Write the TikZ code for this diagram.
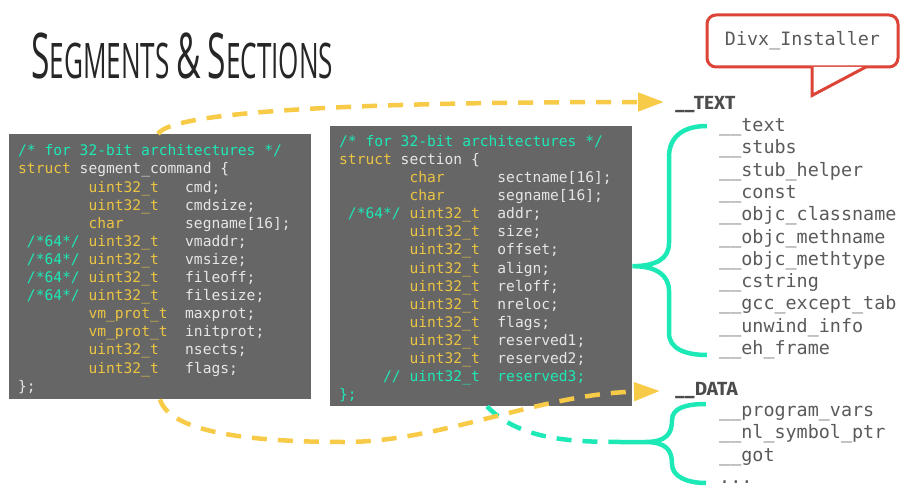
\documentclass[tikz,border=0pt]{standalone}
\usepackage{fontspec}
\usepackage{graphicx}
\usepackage{tikz}
\usetikzlibrary{positioning}
\usetikzlibrary{arrows.meta}
\setmonofont{DejaVu Sans Mono}
\newfontfamily\hdrfont{Fira Sans}
\newfontfamily\ttlfont{Open Sans}
\definecolor{boxgray}{HTML}{666666}
\definecolor{cmt}{HTML}{1DE9B6}
\definecolor{typ}{HTML}{EBC443}
\definecolor{plain}{HTML}{E6E6E6}
\definecolor{arr}{HTML}{F7CA48}
\definecolor{lst}{HTML}{5A5A5A}
\definecolor{bubble}{HTML}{DB4437}
\definecolor{ttl}{HTML}{262626}

\newlength{\chw}
\newcommand{\codefont}{\ttfamily\fontsize{14.6}{18.1}\selectfont\settowidth{\chw}{0}}
\newcommand{\blank}{\hspace*{\chw}}
\newcommand{\segf}[3]{\makebox[7\chw][r]{\color{cmt}#1}\blank\makebox[11\chw][l]{\color{typ}#2}#3}
\newcommand{\sectf}[3]{\makebox[7\chw][r]{\color{cmt}#1}\blank\makebox[10\chw][l]{\color{typ}#2}#3}
\newcommand{\ttlsc}[2]{{\fontsize{63}{63}\selectfont #1}{\fontsize{49}{49}\selectfont #2}}

\tikzset{
  codebox/.style={fill=boxgray, text=plain, font=\codefont, align=left, text width=284pt,
    inner xsep=9pt, inner ysep=0pt, anchor=north west},
  hdr/.style={font=\hdrfont\bfseries\fontsize{19}{19}\selectfont, text=lst!85!black, inner sep=0pt, anchor=west},
  sect/.style={font=\ttfamily\fontsize{18.4}{21.9}\selectfont, text=lst, inner sep=0pt,
    text width=190pt, text height=14pt, text depth=7.9pt},
  yarrow/.style={draw=arr, line width=4.5pt, dash pattern=on 15pt off 11pt,
    -{Triangle[length=26pt,width=18pt]}},
  tdash/.style={draw=cmt, line width=4.5pt, dash pattern=on 15pt off 11pt},
  brace/.style={draw=cmt, line width=4.5pt},
  callout/.style={draw=bubble, line width=3pt, fill=white}
}

\begin{document}
\begin{tikzpicture}[x=1pt,y=-1pt]
\useasboundingbox (0,0) rectangle (913,495);

\node[anchor=base west, inner sep=0pt, text=ttl, font=\ttlfont\fontsize{49}{49}\selectfont] (title) at (31,78)
  {\resizebox{302pt}{\height}{\ttlsc{S}{EGMENTS} {\fontsize{63}{63}\selectfont\&} \ttlsc{S}{ECTIONS}}};

\node[codebox, minimum height=265pt] (segbox) at (9,134) {%
\rule{0pt}{16pt}{\color{cmt}/*\blank for\blank 32-bit\blank architectures\blank */}\\
{\color{typ}struct}\blank segment\_command\blank\{\\
\segf{}{uint32\_t}{cmd;}\\
\segf{}{uint32\_t}{cmdsize;}\\
\segf{}{char}{segname[16];}\\
\segf{/*64*/}{uint32\_t}{vmaddr;}\\
\segf{/*64*/}{uint32\_t}{vmsize;}\\
\segf{/*64*/}{uint32\_t}{fileoff;}\\
\segf{/*64*/}{uint32\_t}{filesize;}\\
\segf{}{vm\_prot\_t}{maxprot;}\\
\segf{}{vm\_prot\_t}{initprot;}\\
\segf{}{uint32\_t}{nsects;}\\
\segf{}{uint32\_t}{flags;}\\
\};};

\node[codebox, minimum height=280pt] (sectbox) at (330,126) {%
\rule{0pt}{16pt}{\color{cmt}/*\blank for\blank 32-bit\blank architectures\blank */}\\
{\color{typ}struct}\blank section\blank\{\\
\sectf{}{char}{sectname[16];}\\
\sectf{}{char}{segname[16];}\\
\sectf{/*64*/}{uint32\_t}{addr;}\\
\sectf{}{uint32\_t}{size;}\\
\sectf{}{uint32\_t}{offset;}\\
\sectf{}{uint32\_t}{align;}\\
\sectf{}{uint32\_t}{reloff;}\\
\sectf{}{uint32\_t}{nreloc;}\\
\sectf{}{uint32\_t}{flags;}\\
\sectf{}{uint32\_t}{reserved1;}\\
\sectf{}{uint32\_t}{reserved2;}\\
\sectf{//}{\color{cmt}uint32\_t}{\color{cmt}reserved3;}\\
\};};

\node[hdr] (TEXT) at (675,105) {\_\_TEXT};
\node[sect, anchor=west] (text) at (719,128.5) {\_\_text};
\node[sect, below=0pt of text] (stubs) {\_\_stubs};
\node[sect, below=0pt of stubs] (stubhelper) {\_\_stub\_helper};
\node[sect, below=0pt of stubhelper] (const) {\_\_const};
\node[sect, below=0pt of const] (classname) {\_\_objc\_classname};
\node[sect, below=0pt of classname] (methname) {\_\_objc\_methname};
\node[sect, below=0pt of methname] (methtype) {\_\_objc\_methtype};
\node[sect, below=0pt of methtype] (cstring) {\_\_cstring};
\node[sect, below=0pt of cstring] (gccexcept) {\_\_gcc\_except\_tab};
\node[sect, below=0pt of gccexcept] (unwind) {\_\_unwind\_info};
\node[sect, below=0pt of unwind] (ehframe) {\_\_eh\_frame};

\node[hdr] (DATA) at (675,391) {\_\_DATA};
\node[sect, anchor=west] (progvars) at (719,413.5) {\_\_program\_vars};
\node[sect, below=0pt of progvars] (nlsymbol) {\_\_nl\_symbol\_ptr};
\node[sect, below=0pt of nlsymbol] (got) {\_\_got};
\node[sect, below=0pt of got] (more) {...};

\coordinate (datatip) at (623,442);

\draw[brace] (707,126) .. controls (684,126) and (669,136) .. (669,157) -- (669,243)
  .. controls (669,259) and (656,266) .. (sectbox.east)
  .. controls (656,266) and (669,275) .. (669,291) -- (669,333)
  .. controls (669,348) and (684,355) .. (707,355);
\draw[brace] (706,404) .. controls (686,404) and (672,408) .. (672,420)
  .. controls (672,434) and (666,442) .. (645,442) -- (datatip)
  (645,442) .. controls (666,442) and (672,450) .. (672,464)
  .. controls (672,476) and (686,483) .. (706,483);

\draw[tdash] ([xshift=157pt]sectbox.south west) .. controls +(33,34) and +(-50,0) .. (datatip);

\draw[yarrow] ([xshift=149pt]segbox.north west) .. controls +(15,-26) and +(-250,0) .. ([xshift=-11pt,yshift=3pt]TEXT.west);
\draw[yarrow] ([xshift=151pt]segbox.south west) .. controls +(10,33) and +(-95,0) .. (345,442)
  .. controls +(95,0) and +(-120,3) .. ([xshift=-15pt]DATA.west);

\node[draw=bubble, line width=3pt, rounded corners=9pt, fill=white, minimum width=191pt, minimum height=52pt,
  font=\ttfamily\fontsize{18.4}{18.4}\selectfont, text=lst] (divx) at (802.5,41) {Divx\_Installer};
\filldraw[callout] ([xshift=9.5pt,yshift=1.6pt]divx.south) -- ++(0pt,-28.6pt) -- ([xshift=63.5pt,yshift=1.6pt]divx.south);
\end{tikzpicture}
\end{document}
